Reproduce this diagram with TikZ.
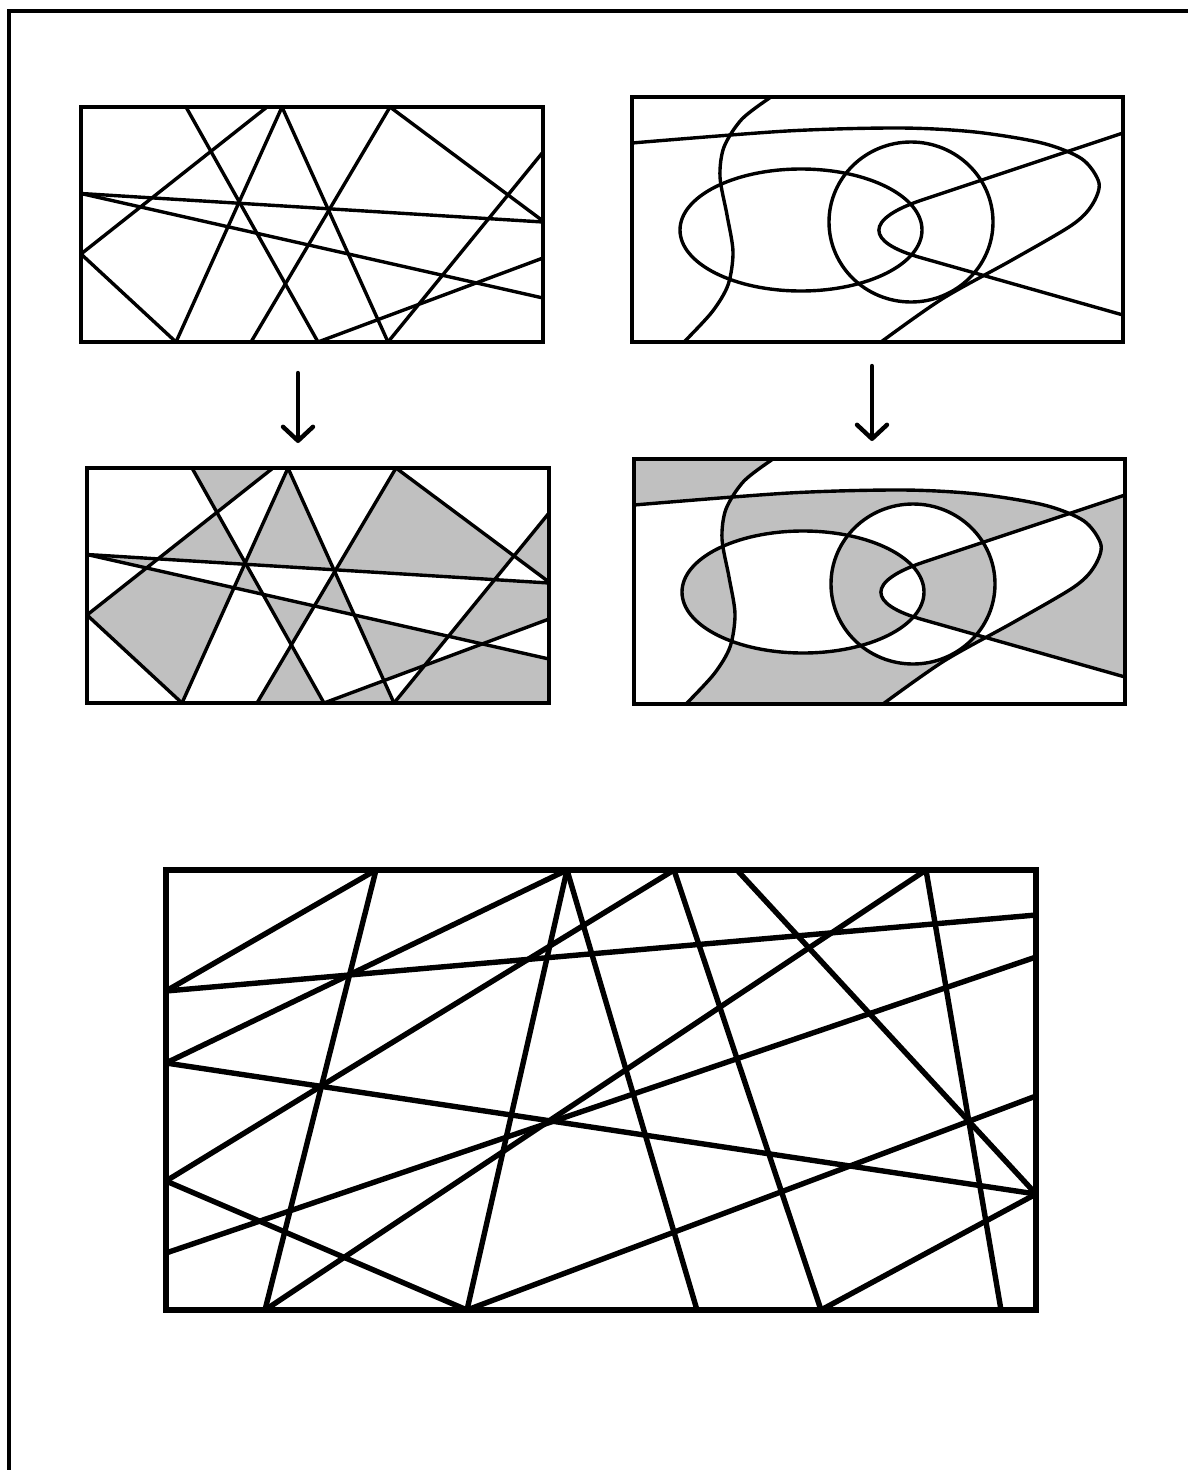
\documentclass[tikz,border=0pt]{standalone}
\usetikzlibrary{arrows.meta}

\definecolor{regiongray}{RGB}{192,192,192}

% straight-line arrangement, local coordinates (1 unit = 1px)
\newcommand{\linearrangement}{%
  \draw (105,0) -- (237,235);
  \draw (186,0) -- (0,147);
  \draw (201,0) -- (95,235);
  \draw (201,0) -- (307,235);
  \draw (309,0) -- (462,114);
  \draw (309,0) -- (170,235);
  \draw (0,86.5) -- (462,115);
  \draw (0,86.5) -- (462,191);
  \draw (0,147) -- (95,235);
  \draw (462,45) -- (307,235);
  \draw (462,151) -- (237,235);
  \draw (0,0) rectangle (462,235);
}

% curve arrangement, local coordinates
\newcommand{\wavypath}{plot[smooth] coordinates {(139,0) (110,22) (92,50) (88,80) (95,118) (101,155) (96,188) (80,215) (52,245)}}
\newcommand{\hookpath}{plot[smooth] coordinates {(0,46) (155,34) (268,31) (343,35) (410,46) (450,62) (467,86) (460,108) (440,128) (380,163) (310,202) (249,245)}}
\newcommand{\vpath}{(491,36) -- (290,103) .. controls (233,122) and (232,145) .. (290,161) -- (491,218)}
\newcommand{\curvearrangement}{%
  \draw (169,133) ellipse (121 and 61);
  \draw (279,125) ellipse (82 and 80);
  \draw \wavypath;
  \draw \hookpath;
  \draw \vpath;
  \draw (0,0) rectangle (491,245);
}

\begin{document}
\begin{tikzpicture}[x=0.05cm, y=-0.05cm,
  thinline/.style={line width=0.17cm},
  thickline/.style={line width=0.27cm},
  downarrow/.style={line width=0.22cm, line cap=round, -{Straight Barb[length=0.7cm, width=1.5cm, round]}},
  grayregion/.style={fill=regiongray, even odd rule}]
\useasboundingbox (0,0) rectangle (1188,1470);
% outer frame (left and top only)
\draw[line width=0.22cm] (9,1470) -- (9,11) -- (1188,11);

% lines (top left)
\begin{scope}[shift={(81,107)}, thinline]
  \linearrangement
\end{scope}
% lines, two-coloured
\begin{scope}[shift={(87,468)}, thinline]
  \fill[grayregion] (105,0) -- (462,0) -- (462,235) -- (237,235) -- cycle
    (186,0) -- (462,0) -- (462,235) -- (0,235) -- (0,147) -- cycle
    (201,0) -- (462,0) -- (462,235) -- (95,235) -- cycle
    (201,0) -- (462,0) -- (462,235) -- (307,235) -- cycle
    (309,0) -- (462,0) -- (462,114) -- cycle
    (309,0) -- (462,0) -- (462,235) -- (170,235) -- cycle
    (0,86.5) -- (462,115) -- (462,235) -- (0,235) -- cycle
    (0,86.5) -- (462,191) -- (462,235) -- (0,235) -- cycle
    (0,147) -- (95,235) -- (0,235) -- cycle
    (462,45) -- (462,235) -- (307,235) -- cycle
    (462,151) -- (462,235) -- (237,235) -- cycle;
  \linearrangement
\end{scope}

% curves (top right)
\begin{scope}[shift={(632,97)}, thinline]
  \curvearrangement
\end{scope}
% curves, two-coloured
\begin{scope}[shift={(634,459)}, thinline]
  \fill[grayregion] (0,0) rectangle (491,245)
    (169,133) ellipse (121 and 61)
    (279,125) ellipse (82 and 80)
    \hookpath -- (0,245) -- cycle
    \wavypath -- (491,245) -- (491,0) -- cycle
    \vpath -- cycle;
  \curvearrangement
\end{scope}

% arrows
\draw[downarrow] (298,373) -- (298,443);
\draw[downarrow] (872,366) -- (872,441);

% big arrangement
\begin{scope}[thickline]
  \coordinate (l1) at (166,991);
  \coordinate (l2) at (166,1063);
  \coordinate (l3) at (166,1181);
  \coordinate (l4) at (166,1253);
  \coordinate (r1) at (1036,915);
  \coordinate (r2) at (1036,957);
  \coordinate (r3) at (1036,1096);
  \coordinate (r4) at (1036,1194);
  \coordinate (t1) at (376,870);
  \coordinate (t2) at (567,870);
  \coordinate (t3) at (674,870);
  \coordinate (t4) at (737,870);
  \coordinate (t5) at (926,870);
  \coordinate (b1) at (265,1310);
  \coordinate (b2) at (467,1310);
  \coordinate (b3) at (697,1310);
  \coordinate (b4) at (821,1310);
  \coordinate (b5) at (1001,1310);
  \draw (l1) -- (t1);
  \draw (t1) -- (b1);
  \draw (l1) -- (r1);
  \draw (l2) -- (t2);
  \draw (t2) -- (b2);
  \draw (t2) -- (b3);
  \draw (l2) -- (r4);
  \draw (l3) -- (t3);
  \draw (t3) -- (b4);
  \draw (t4) -- (r4);
  \draw (l3) -- (b2);
  \draw (l4) -- (r2);
  \draw (b1) -- (t5);
  \draw (t5) -- (b5);
  \draw (b2) -- (r3);
  \draw (b4) -- (r4);
  \draw[line width=0.32cm] (166,870) rectangle (1036,1310);
\end{scope}
\end{tikzpicture}
\end{document}
